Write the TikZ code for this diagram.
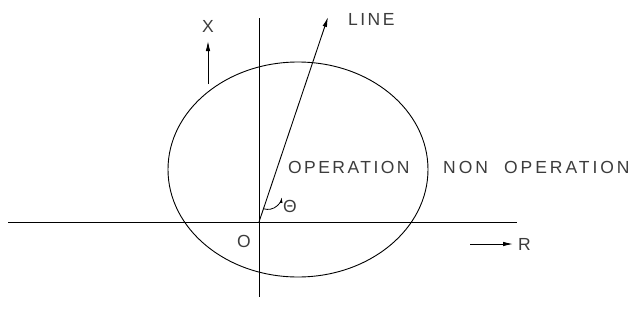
\documentclass[tikz,border=0pt]{standalone}
\usepackage{fontspec}
\setmainfont{Liberation Sans}
\newfontfamily\cadfont[LetterSpace=14]{Liberation Sans}
\newfontfamily\cadwidefont[LetterSpace=17]{Liberation Sans}
\usepackage{tikz}
\usetikzlibrary{arrows.meta, positioning, calc}
\definecolor{labelgray}{RGB}{60, 60, 60}

\begin{document}
\begin{tikzpicture}[
    x=1pt, y=-1pt,
    axis/.style={line width=0.9pt, black},
    arrow/.style={line width=0.9pt, -{Latex[length=10pt, width=4.5pt]}},
    label/.style={font=\cadfont\fontsize{17.5}{17.5}\selectfont, text=labelgray, inner sep=0pt}
]
\useasboundingbox (0,0) rectangle (633,325);

\coordinate (o) at (259,222);
\coordinate (left) at (8,222);
\coordinate (right) at (517,222);
\coordinate (top) at (259,18);
\coordinate (bottom) at (259,297);
\coordinate (linetip) at (328,17);

% axes and the circle
\draw[axis] (left) -- (right);
\draw[axis] (top) -- (bottom);
\draw[axis] (298,169.5) ellipse [x radius=130, y radius=107.5];

% line and angle
\draw[arrow] (o) -- (linetip);
\draw[line width=0.8pt, -{Latex[length=6pt, width=3pt]}] ($(o)!14pt!(linetip)$) arc [start angle=108, end angle=6, radius=14];

% direction arrows
\coordinate (xfoot) at (208,84);
\coordinate (xhead) at (208,41);
\draw[arrow] (xfoot) -- (xhead);
\coordinate (rfoot) at (470,244);
\coordinate (rhead) at (513,244);
\draw[arrow] (rfoot) -- (rhead);

% labels
\node[label] (xlab) at (208,26) {X};
\node[label, anchor=west] (linelab) at (348,19) {LINE};
\node[label, anchor=west] (rlab) at (518,244) {R};
\node[label] (olab) at (244,241) {O};
\node[label] (thlab) at (290,206) {Θ};
\node[label, anchor=west] (oplab) at (288,167) {OPERATION};
\node[label, anchor=west, font=\cadwidefont\fontsize{17.5}{17.5}\selectfont] (nonlab) at (443,167) {NON\hspace{16pt}OPERATION};
\end{tikzpicture}
\end{document}
